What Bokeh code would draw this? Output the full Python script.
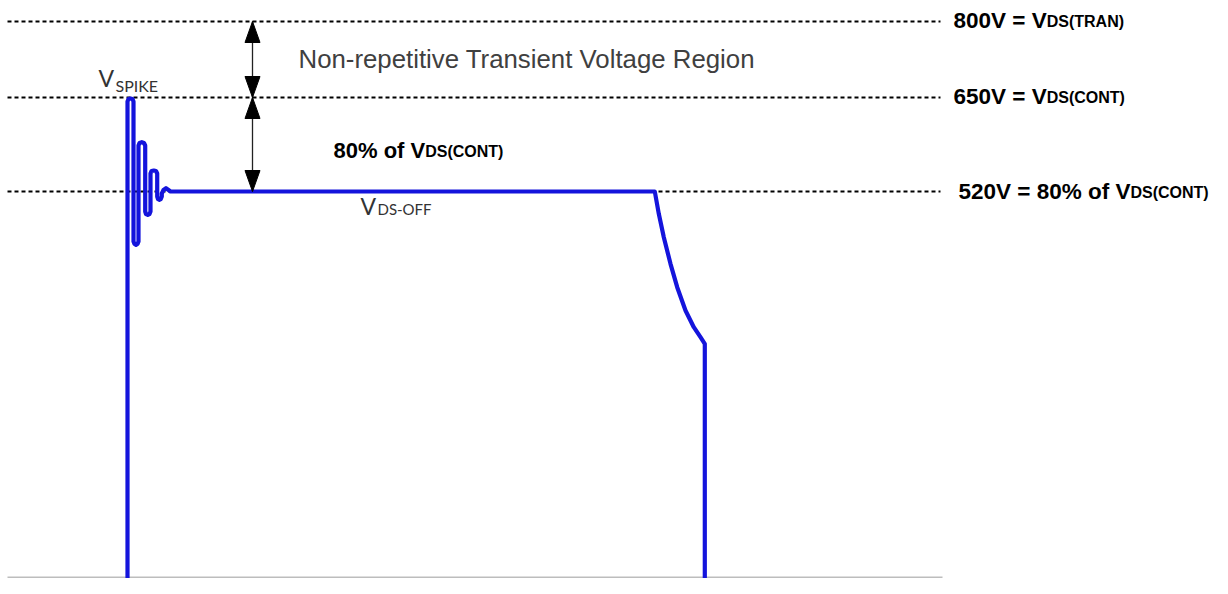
from bokeh.plotting import figure
from bokeh.models import Range1d
from bokeh.core.properties import value
from bokeh.embed import file_html
from bokeh.resources import INLINE

# ---------------- data (schematic drawing units) ----------------
# voltage levels and their position on the schematic (vertical drawing units)
level_volts = [800, 650, 520]
level_y = [573, 497, 403]
level_main = ["800V = V", "650V = V", "520V = 80% of V"]
level_sub = ["DS(TRAN)", "DS(CONT)", "DS(CONT)"]

# V_DS waveform (time units, level units)
wave_t = [127, 127, 128, 130, 132, 133, 133, 134, 135.5, 137, 138,
          138, 139, 141.3, 143.5, 144.7, 144.7, 145.5, 147.3, 149, 150,
          150, 151, 153.3, 155.5, 156.7, 156.7, 157.5, 158.7, 160.3, 161.3,
          161.3, 163, 165.5, 168, 170, 654.3, 658.3, 663.3, 670, 676.7, 685,
          693.3, 700, 704.3, 704.3]
wave_v = [0, 493, 495.5, 496, 495.5, 493, 353, 350.5, 349.7, 350.5, 353,
          449, 451.5, 452.3, 451.5, 449, 383, 380.5, 379.7, 380.5, 383,
          421, 423.5, 424, 423.5, 421, 398, 395.5, 394.7, 395.5, 398,
          401, 404.5, 406.3, 404.5, 403, 403, 380.7, 357.3, 330.7, 307.3, 284,
          267.3, 257.3, 250.7, 0]

# time span of the drawing (reference lines / baseline)
t_start, t_end = 7, 940
marker_t = 252          # time of the double arrows
floor_v = 17            # drawing floor

# ---------------- figure ----------------
W, H = 1212, 578
TOP = 594
p = figure(width=W, height=H, x_range=Range1d(0, W), y_range=Range1d(TOP - H, TOP),
           x_axis_type=None, y_axis_type=None, toolbar_location=None,
           output_backend="svg", min_border=0, outline_line_color=None,
           background_fill_color="white", border_fill_color="white")
p.grid.visible = False

# baseline
p.line([t_start, t_end + 2], [floor_v, floor_v], line_color="#bdbdbd", line_width=2)

# dashed reference lines
for ly in level_y:
    p.line([t_start, t_end], [ly, ly], line_color="black", line_width=2.2, line_dash="4 3")

# waveform
p.line(wave_t, wave_v, line_color="#1414dc", line_width=4.2, line_join="round", line_cap="butt")

# double arrows
p.line([marker_t, marker_t], [level_y[0], level_y[2]], line_color="#222222", line_width=1.3)
head_w, head_len = 15, 21
xs, ys = [], []
for top, bot in [(level_y[0], level_y[1]), (level_y[1], level_y[2])]:
    xs.append([marker_t - head_w / 2, marker_t, marker_t + head_w / 2])
    ys.append([top - head_len, top, top - head_len])
    xs.append([marker_t - head_w / 2, marker_t, marker_t + head_w / 2])
    ys.append([bot + head_len, bot, bot + head_len])
p.patches(xs, ys, fill_color="black", line_color="black", line_width=1)

# ---------------- text ----------------
ARIAL_B = {'0': .556, '1': .556, '2': .556, '5': .556, '6': .556, '8': .556,
           'V': .667, ' ': .278, '=': .584, '%': .889, 'o': .611, 'f': .333}


def bw(s, size):
    return sum(ARIAL_B.get(c, .6) for c in s) * size


MAIN = 22.5
SUB = 16
for i, (ly, m, s) in enumerate(zip(level_y, level_main, level_sub)):
    dx = 13 if i < 2 else 18
    dy = -1 if i < 2 else 0
    p.text([t_end], [ly], text=[m], text_font=value("Liberation Sans"),
           text_font_size=value(f"{MAIN}px"), text_font_style="bold",
           text_color="black", text_baseline="alphabetic", text_align="left",
           x_offset=dx, y_offset=dy)
    p.text([t_end], [ly], text=[s], text_font=value("Liberation Sans"),
           text_font_size=value(f"{SUB}px"), text_font_style="bold",
           text_color="black", text_baseline="alphabetic", text_align="left",
           x_offset=dx + bw(m, MAIN), y_offset=dy + 1)

# transient region label
mid_top = (level_y[0] + level_y[1]) / 2
p.text([marker_t], [mid_top], text=["Non-repetitive Transient Voltage Region"],
       text_font=value("Liberation Sans"), text_font_size=value("25.8px"),
       text_color="#404040", text_baseline="alphabetic", text_align="left",
       x_offset=46, y_offset=-1)

# 80% of VDS(CONT)
mid_low = (level_y[1] + level_y[2]) / 2
M2 = 22
p.text([marker_t], [mid_low], text=["80% of V"], text_font=value("Liberation Sans"),
       text_font_size=value(f"{M2}px"), text_font_style="bold", text_color="black",
       text_baseline="alphabetic", text_align="left", x_offset=81, y_offset=5.5)
p.text([marker_t], [mid_low], text=["DS(CONT)"], text_font=value("Liberation Sans"),
       text_font_size=value("16px"), text_font_style="bold", text_color="black",
       text_baseline="alphabetic", text_align="left",
       x_offset=81 + bw("80% of V", M2), y_offset=6.5)

# V_SPIKE
p.text([wave_t[0]], [level_y[1]], text=["V"], text_font=value("Lato"),
       text_font_size=value("23px"), text_color="#333333",
       text_baseline="alphabetic", text_align="left", x_offset=-29, y_offset=-19.5)
p.text([wave_t[0]], [level_y[1]], text=["SPIKE"], text_font=value("Lato"),
       text_font_size=value("16px"), text_color="#333333",
       text_baseline="alphabetic", text_align="left", x_offset=-12, y_offset=-12.5)

# V_DS-OFF
p.text([marker_t], [level_y[2]], text=["V"], text_font=value("Lato"),
       text_font_size=value("23px"), text_color="#333333",
       text_baseline="alphabetic", text_align="left", x_offset=108, y_offset=14)
p.text([marker_t], [level_y[2]], text=["DS-OFF"], text_font=value("Lato"),
       text_font_size=value("15px"), text_color="#333333",
       text_baseline="alphabetic", text_align="left", x_offset=125, y_offset=17)

open("out.html", "w").write(file_html(p, INLINE))
